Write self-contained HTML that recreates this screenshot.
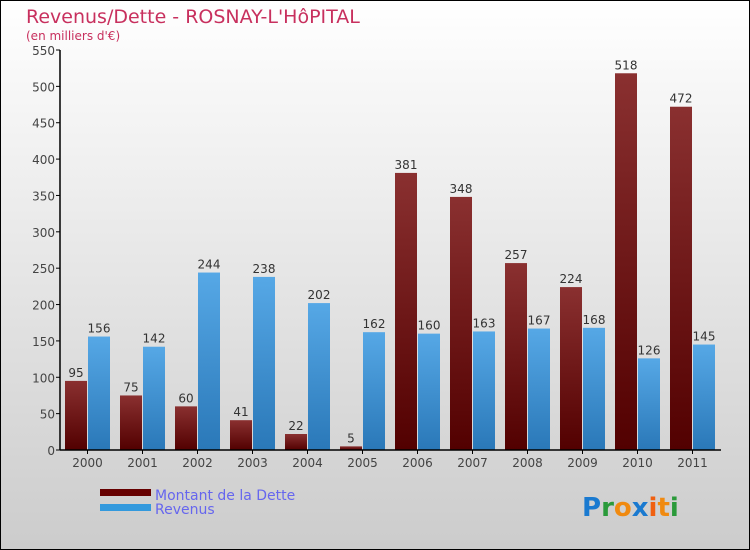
<!DOCTYPE html>
<html><head><meta charset="utf-8"><style>
body{margin:0}
#c{width:748px;height:548px;border:1px solid #000;background:linear-gradient(#fff,#ccc);position:relative;font-family:"DejaVu Sans","Liberation Sans",sans-serif}
</style></head><body>
<div id="c">
<svg width="748" height="548" viewBox="1 1 748 548" style="position:absolute;left:0;top:0">
<defs>
<linearGradient id="gr" x1="0" y1="0" x2="0" y2="1"><stop offset="0" stop-color="#8a3030"/><stop offset="1" stop-color="#520000"/></linearGradient>
<linearGradient id="gb" x1="0" y1="0" x2="0" y2="1"><stop offset="0" stop-color="#56a8e6"/><stop offset="1" stop-color="#2a78b8"/></linearGradient>
</defs>
<text x="26" y="23" font-size="19" fill="#c8305e">Revenus/Dette - ROSNAY-L'HôPITAL</text>
<text x="26" y="40" font-size="12" fill="#c8305e">(en milliers d'€)</text>
<g id="plot"></g>
<rect x="100" y="489" width="51" height="7" fill="#660000"/>
<rect x="100" y="504" width="51" height="7" fill="#3399dd"/>
<text x="155" y="500" font-size="14" fill="#6666ee">Montant de la Dette</text>
<text x="155" y="514" font-size="14" fill="#6666ee">Revenus</text>
<text x="582" y="516" font-size="26" font-weight="bold"><tspan fill="#1a7ad0">P</tspan><tspan fill="#2a9a3a">r</tspan><tspan fill="#f08a10">o</tspan><tspan fill="#1a7ad0">x</tspan><tspan fill="#f06010">i</tspan><tspan fill="#f08a10">t</tspan><tspan fill="#2a9a3a">i</tspan></text>
</svg>
</div>
<script>
const years=["2000","2001","2002","2003","2004","2005","2006","2007","2008","2009","2010","2011"];
const dette=[95,75,60,41,22,5,381,348,257,224,518,472];
const revenus=[156,142,244,238,202,162,160,163,167,168,126,145];
const yTicks=[0,50,100,150,200,250,300,350,400,450,500,550];
const NS="http://www.w3.org/2000/svg";
const g=document.getElementById("plot");
const y=v=>450-v*400/550;
const x=i=>60+i*55;
function mk(t,a){const e=document.createElementNS(NS,t);for(const k in a)e.setAttribute(k,a[k]);g.appendChild(e);return e;}
yTicks.forEach(v=>{
 const l=mk("line",{x1:56,x2:60,y1:y(v),y2:y(v),stroke:"#000"});
 
 
 const t=mk("text",{x:55,y:y(v)+5,"font-size":12,fill:"#444","text-anchor":"end"});t.textContent=v;
 
 
});
years.forEach((yr,i)=>{
 const b1=mk("rect",{x:x(i)+5,y:y(dette[i]),width:22,height:450-y(dette[i]),fill:"url(#gr)"});
 
 
 const b2=mk("rect",{x:x(i)+28,y:y(revenus[i]),width:22,height:450-y(revenus[i]),fill:"url(#gb)"});
 
 
 const l1=mk("text",{x:x(i)+16,y:y(dette[i])-4,"font-size":12,fill:"#333","text-anchor":"middle"});l1.textContent=dette[i];
 
 
 const l2=mk("text",{x:x(i)+39,y:y(revenus[i])-4,"font-size":12,fill:"#333","text-anchor":"middle"});l2.textContent=revenus[i];
 
 
 const tk=mk("line",{x1:x(i)+27.5,x2:x(i)+27.5,y1:450,y2:454,stroke:"#000"});
 
 
 const xl=mk("text",{x:x(i)+27.5,y:467,"font-size":12,fill:"#444","text-anchor":"middle"});xl.textContent=yr;
 
 
});
const ya=mk("line",{x1:60,x2:60,y1:50,y2:450,stroke:"#000","stroke-width":1.5});


const xa=mk("line",{x1:60,x2:721,y1:450,y2:450,stroke:"#000","stroke-width":1.5});


</script>
</body></html>
